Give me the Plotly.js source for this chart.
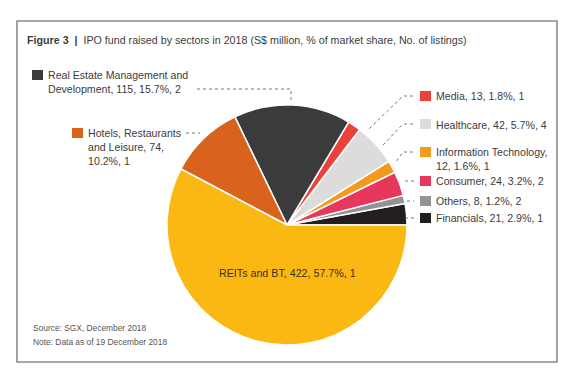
<!DOCTYPE html>
<html>
<head>
<meta charset="utf-8">
<script src="https://cdn.plot.ly/plotly-3.0.1.min.js"></script>
<style>html,body{margin:0;padding:0;background:#fff;}#chart{width:580px;height:382px;}</style>
</head>
<body>
<div id="chart"></div>
<script>
// Data (counterclockwise from 3 o'clock)
const sectors = ["Financials", "Others", "Consumer", "Information Technology", "Healthcare", "Media",
  "Real Estate Management and Development", "Hotels, Restaurants and Leisure", "REITs and BT"];
const fundsRaised = [21, 8, 24, 12, 42, 13, 115, 74, 422];
const marketShare = [2.9, 1.2, 3.2, 1.6, 5.7, 1.8, 15.7, 10.2, 57.7];
const listings = [1, 2, 2, 1, 4, 1, 2, 1, 1];
const sliceColors = ["#231f20", "#939393", "#e8375d", "#f39a1e", "#dcdcdc", "#e8423a", "#3b3a3d", "#d9621c", "#fbb813"];

const W = 580, H = 382;
const px = x => x / W;
const py = y => 1 - y / H;

function labelText(i) {
  return sectors[i] + ", " + fundsRaised[i] + ", " + marketShare[i].toFixed(1) + "%, " + listings[i];
}

const textColor = "#3c3c3c";
const fontFam = "Liberation Sans, Arial, Helvetica, sans-serif";

const labelDefs = [
  {i: 6, x: 46, y: 82, text: "Real Estate Management and<br>Development, " + fundsRaised[6] + ", " + marketShare[6].toFixed(1) + "%, " + listings[6], sq: [32, 70]},
  {i: 7, x: 86, y: 147, text: "Hotels, Restaurants<br>and Leisure, " + fundsRaised[7] + ",<br>" + marketShare[7].toFixed(1) + "%, " + listings[7], sq: [72, 128]},
  {i: 5, x: 434, y: 96, text: labelText(5), sq: [420, 91]},
  {i: 4, x: 434, y: 125, text: labelText(4), sq: [420, 119]},
  {i: 3, x: 434, y: 159, text: "Information Technology,<br>" + fundsRaised[3] + ", " + marketShare[3].toFixed(1) + "%, " + listings[3], sq: [420, 147]},
  {i: 2, x: 434, y: 181, text: labelText(2), sq: [420, 176]},
  {i: 1, x: 434, y: 201, text: labelText(1), sq: [420, 196]},
  {i: 0, x: 434, y: 218, text: labelText(0), sq: [420, 213]}
];

const leaders = [
  [[197, 89], [291, 89], [291, 103]],
  [[186, 133], [200, 133]],
  [[413, 96], [403, 96], [369, 129]],
  [[413, 124], [403, 124], [383, 145]],
  [[413, 152], [403, 152], [395, 163]],
  [[405, 181], [414, 181]],
  [[407, 201], [414, 201]],
  [[405, 218], [414, 218]]
];

const shapes = [];
shapes.push({type: "rect", xref: "paper", yref: "paper", x0: px(17), x1: px(557), y0: py(362), y1: py(21),
  line: {color: "#8a8a8a", width: 1.6}, fillcolor: "rgba(0,0,0,0)"});
labelDefs.forEach(d => {
  shapes.push({type: "rect", xref: "paper", yref: "paper", x0: px(d.sq[0]), x1: px(d.sq[0] + 11),
    y0: py(d.sq[1] + 10), y1: py(d.sq[1]), line: {width: 0}, fillcolor: sliceColors[d.i]});
});
leaders.forEach(pts => {
  const path = pts.map((p, k) => (k === 0 ? "M" : "L") + px(p[0]) + "," + py(p[1])).join(" ");
  shapes.push({type: "path", xref: "paper", yref: "paper", path: path, line: {color: "#666", width: 0.9, dash: "dot"}});
});

const annotations = labelDefs.map(d => ({
  xref: "paper", yref: "paper", x: px(d.x), y: py(d.y), xanchor: "left", yanchor: "middle",
  text: d.text, showarrow: false, align: "left", font: {family: fontFam, size: 10.6, color: textColor}
}));
annotations.push({xref: "paper", yref: "paper", x: px(287), y: py(273), xanchor: "center", yanchor: "middle",
  text: labelText(8), showarrow: false, font: {family: fontFam, size: 10.7, color: "#3a3020"}});
annotations.push({xref: "paper", yref: "paper", x: px(31), y: py(328), xanchor: "left", yanchor: "middle",
  text: "Source: SGX, December 2018", showarrow: false, font: {family: fontFam, size: 8.4, color: "#555"}});
annotations.push({xref: "paper", yref: "paper", x: px(31), y: py(342), xanchor: "left", yanchor: "middle",
  text: "Note: Data as of 19 December 2018", showarrow: false, font: {family: fontFam, size: 8.4, color: "#555"}});

// Plotly offsets the first counterclockwise slice by its own width; compensate so it starts at 3 o'clock
const total = fundsRaised.reduce((a, b) => a + b, 0);
const startRotation = 90 - 360 * fundsRaised[0] / total;

const trace = {
  type: "pie",
  labels: sectors,
  values: fundsRaised,
  sort: false,
  direction: "counterclockwise",
  rotation: startRotation,
  marker: {colors: sliceColors, line: {color: "#ffffff", width: 1.5}},
  textinfo: "none",
  hoverinfo: "label+value",
  domain: {x: [px(167), px(407)], y: [py(345), py(105)]},
  showlegend: false
};

const layout = {
  width: W, height: H,
  margin: {l: 0, r: 0, t: 0, b: 0},
  paper_bgcolor: "#ffffff",
  showlegend: false,
  title: {
    text: "<b>Figure 3</b>  <b>|</b>  IPO fund raised by sectors in 2018 (S$ million, % of market share, No. of listings)",
    x: px(27), xanchor: "left", xref: "paper",
    y: py(40), yanchor: "middle", yref: "paper",
    font: {family: fontFam, size: 10.7, color: "#3c3c3c"}
  },
  shapes: shapes,
  annotations: annotations
};

Plotly.newPlot("chart", [trace], layout, {displayModeBar: false, staticPlot: true});
</script>
</body>
</html>
